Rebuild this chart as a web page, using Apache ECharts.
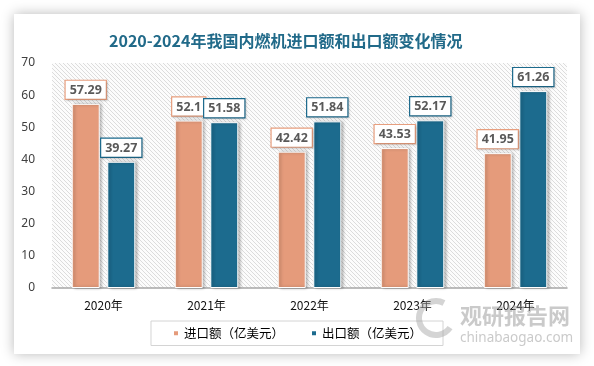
<!DOCTYPE html>
<html><head><meta charset="utf-8">
<script src="https://cdn.jsdelivr.net/npm/echarts@6/dist/echarts.min.js"></script>
<style>
html,body{margin:0;padding:0;background:#fff;width:594px;height:366px;overflow:hidden;}
#card{position:absolute;left:14px;top:14px;width:566px;height:340px;background:#fff;box-shadow:0 0 12px rgba(0,0,0,0.28);}
#chart{position:absolute;left:0;top:0;width:594px;height:366px;}
</style></head>
<body>
<div id="card"></div>
<div id="chart"></div>
<script>
const titleText = '2020-2024年我国内燃机进口额和出口额变化情况';
const categories = ['2020年','2021年','2022年','2023年','2024年'];
const importName = '进口额（亿美元）';
const exportName = '出口额（亿美元）';
const importValues = [57.29, 52.1, 42.42, 43.53, 41.95];
const exportValues = [39.27, 51.58, 51.84, 52.17, 61.26];
const yTicks = {min: 0, max: 70, interval: 10};

const orange = '#e59b7b';
const blue = '#1c6b8e';

// hatch pattern
const pc = document.createElement('canvas');
pc.width = 4; pc.height = 4;
const g = pc.getContext('2d');
g.fillStyle = '#fcfcfc'; g.fillRect(0,0,4,4);
g.strokeStyle = '#dcdcdc'; g.lineWidth = 1;
g.beginPath();
g.moveTo(-1,-1); g.lineTo(5,5);
g.moveTo(-1,3); g.lineTo(1,5);
g.moveTo(3,-1); g.lineTo(5,1);
g.stroke();

const chart = echarts.init(document.getElementById('chart'), null, {renderer:'canvas'});

function labelFor(color){
  return {
    show: true, position: 'top', distance: 5,
    color: '#595959', fontWeight: 'bold', fontSize: 12.5, fontFamily: 'Noto Sans',
    backgroundColor: '#fff', borderColor: color, borderWidth: 1.2,
    padding: [3, 4, 2, 4],
    shadowColor: 'rgba(0,0,0,0.15)', shadowBlur: 2, shadowOffsetX: 1, shadowOffsetY: 1
  };
}

chart.setOption({
  backgroundColor: 'transparent',
  animation: false,
  title: {
    text: titleText, left: 104, top: 28,
    textStyle: {color: '#216a89', fontSize: 16, fontWeight: 'bold', fontFamily: 'Noto Sans CJK SC'}
  },
  grid: {
    left: 52, top: 63, width: 515, height: 225, show: true,
    backgroundColor: {image: pc, repeat: 'repeat'}, borderWidth: 0
  },
  legend: {
    data: [importName, exportName],
    left: 'center', top: 321,
    itemWidth: 6, itemHeight: 6, itemGap: 26,
    icon: 'rect',
    borderColor: '#d4d4d4', borderWidth: 1,
    padding: [6, 21],
    textStyle: {color: '#000', fontSize: 12.5, fontFamily: 'Noto Sans CJK SC'}
  },
  xAxis: {
    type: 'category', data: categories,
    axisLine: {lineStyle: {color: '#a6a6a6', width: 1.5}},
    axisTick: {show: false},
    axisLabel: {color: '#111', fontSize: 12, margin: 11, fontFamily: 'Noto Sans CJK SC'}
  },
  yAxis: {
    type: 'value', min: yTicks.min, max: yTicks.max, interval: yTicks.interval,
    axisLine: {show: false}, axisTick: {show: false},
    splitLine: {show: false},
    axisLabel: {color: '#404040', fontSize: 12, margin: 17, fontFamily: 'Noto Sans'}
  },
  series: [
    {
      name: importName, type: 'bar', data: importValues,
      barWidth: 28, barGap: '27%',
      itemStyle: {color: orange, borderColor: '#fff', borderWidth: 1,
        shadowColor: 'rgba(0,0,0,0.3)', shadowBlur: 3, shadowOffsetX: 2, shadowOffsetY: 0},
      label: labelFor('#e9a07f')
    },
    {
      name: exportName, type: 'bar', data: exportValues,
      barWidth: 28, barGap: '27%',
      itemStyle: {color: blue, borderColor: '#fff', borderWidth: 1,
        shadowColor: 'rgba(0,0,0,0.3)', shadowBlur: 3, shadowOffsetX: 2, shadowOffsetY: 0},
      label: labelFor(blue)
    }
  ],
  graphic: [
    {type: 'arc', z: 100, shape: {cx: 436, cy: 318, r: 17, startAngle: 0.6, endAngle: 5.2},
     style: {stroke: 'rgba(160,160,160,0.45)', lineWidth: 6, fill: null}},
    {type: 'text', z: 100, left: 460, top: 305,
     style: {text: '观研报告网', fill: 'rgba(150,150,150,0.5)', fontSize: 22, fontWeight: 'bold', fontFamily: 'Noto Sans CJK SC'}},
    {type: 'text', z: 100, left: 460, top: 331,
     style: {text: 'chinabaogao.com', fill: 'rgba(150,150,150,0.5)', fontSize: 13.5, fontFamily: 'Noto Sans'}}
  ]
});
</script>
</body></html>
